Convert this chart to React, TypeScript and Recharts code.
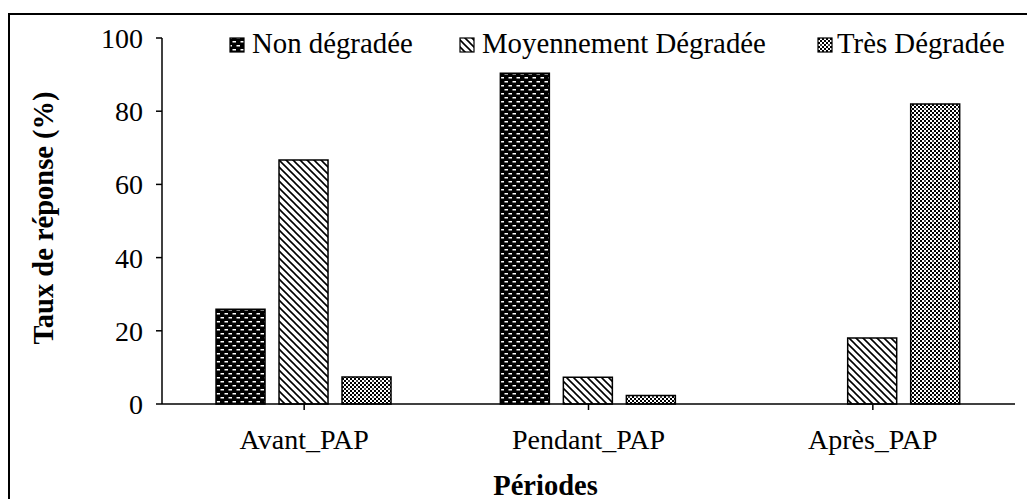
import React from "react";
import { BarChart, Bar, XAxis, YAxis, Legend } from "recharts";

const periods = ["Avant_PAP", "Pendant_PAP", "Après_PAP"];
const seriesNames = ["Non dégradée", "Moyennement Dégradée", "Très Dégradée"];
const nonDegradee = [25.9, 90.4, 0];
const moyennement = [66.7, 7.3, 18.0];
const tresDegradee = [7.4, 2.3, 82.0];
const yTicks = [0, 20, 40, 60, 80, 100];
const yTitle = "Taux de réponse (%)";
const xTitle = "Périodes";

const data = periods.map((p, i) => ({
  period: p,
  non: nonDegradee[i],
  moy: moyennement[i],
  tres: tresDegradee[i],
}));

const FONT = "'Liberation Serif', 'Times New Roman', serif";
const keys = ["non", "moy", "tres"];

const Patterns = ({ prefix }: { prefix: string }) => (
  <defs>
    <pattern id={`${prefix}non`} patternUnits="userSpaceOnUse" width={8} height={8}>
      <rect x={0} y={0} width={8} height={8} fill="#000" />
      <rect x={0.5} y={1} width={3.5} height={1.5} fill="#fff" />
      <rect x={4.5} y={5} width={3.5} height={1.5} fill="#fff" />
    </pattern>
    <pattern id={`${prefix}moy`} patternUnits="userSpaceOnUse" width={7} height={7}>
      <rect x={0} y={0} width={7} height={7} fill="#fff" />
      <path d="M0,0 L7,7 M-1,6 L1,8 M6,-1 L8,1" stroke="#000" strokeWidth={1.6} />
    </pattern>
    <pattern id={`${prefix}tres`} patternUnits="userSpaceOnUse" width={8} height={8}>
      <rect x={0} y={0} width={8} height={8} fill="#fff" />
      <rect x={0} y={0} width={2} height={2} fill="#000" />
      <rect x={4} y={0} width={2} height={2} fill="#000" />
      <rect x={2} y={2} width={2} height={2} fill="#000" />
      <rect x={6} y={2} width={2} height={2} fill="#000" />
      <rect x={0} y={4} width={2} height={2} fill="#000" />
      <rect x={4} y={4} width={2} height={2} fill="#444" />
      <rect x={2} y={6} width={2} height={2} fill="#000" />
      <rect x={6} y={6} width={2} height={2} fill="#000" />
    </pattern>
  </defs>
);

const legendIconX = [222, 452, 810];
const legendTextGap = [22, 22, 19];

const renderLegend = () => (
  <svg width={1027} height={60} style={{ display: "block" }}>
    <Patterns prefix="lg" />
    {seriesNames.map((name, i) => (
      <g key={name}>
        <rect
          x={legendIconX[i]}
          y={30}
          width={14}
          height={14}
          fill={`url(#lg${keys[i]})`}
          stroke="#000"
          strokeWidth={1.2}
        />
        <text
          x={legendIconX[i] + legendTextGap[i]}
          y={45}
          fontFamily={FONT}
          fontSize={28.8}
          fill="#000"
        >
          {name}
        </text>
      </g>
    ))}
  </svg>
);

const YTitle = (props: any) => {
  const vb = props.viewBox || { x: 0, y: 30, width: 154, height: 366 };
  const cx = vb.x + 35;
  const cy = vb.y + vb.height / 2 - 3;
  return (
    <text
      x={cx}
      y={cy}
      transform={`rotate(-90, ${cx}, ${cy})`}
      textAnchor="middle"
      dominantBaseline="central"
      fontFamily={FONT}
      fontSize={28.5}
      fontWeight="bold"
      fill="#000"
    >
      {yTitle}
    </text>
  );
};

const XTitle = (props: any) => {
  const vb = props.viewBox || { x: 154, y: 396, width: 853, height: 95 };
  const cx = vb.x + vb.width / 2 - 43;
  return (
    <text
      x={cx}
      y={vb.y + 91}
      textAnchor="middle"
      fontFamily={FONT}
      fontSize={28.5}
      fontWeight="bold"
      fill="#000"
    >
      {xTitle}
    </text>
  );
};

export default function App() {
  return (
    <div
      style={{
        position: "relative",
        width: 1027,
        height: 491,
        overflow: "hidden",
        fontFamily: FONT,
        background: "#fff",
      }}
    >
      <div
        style={{
          position: "absolute",
          left: 0,
          top: 5,
          width: 1100,
          height: 600,
          border: "2px solid #000",
          boxSizing: "border-box",
        }}
      />
      <div style={{ position: "absolute", left: 0, top: 0 }}>
        <BarChart
          width={1027}
          height={491}
          data={data}
          margin={{ top: 30, right: 20, bottom: 0, left: 0 }}
          barCategoryGap="19%"
          barGap={14}
        >
          <Patterns prefix="p" />
          <XAxis
            dataKey="period"
            tickSize={6}
            tickMargin={19}
            axisLine={{ stroke: "#000", strokeWidth: 1.5 }}
            tickLine={{ stroke: "#000", strokeWidth: 1.5 }}
            tick={{ fill: "#000", fontSize: 28, fontFamily: FONT }}
            height={95}
            label={<XTitle />}
          />
          <YAxis
            domain={[0, 100]}
            ticks={yTicks}
            width={154}
            tickSize={6}
            tickMargin={13}
            axisLine={{ stroke: "#000", strokeWidth: 1.5 }}
            tickLine={{ stroke: "#000", strokeWidth: 1.5 }}
            tick={{ fill: "#000", fontSize: 28, fontFamily: FONT }}
            label={<YTitle />}
          />
          <Legend
            verticalAlign="middle"
            layout="horizontal"
            content={renderLegend}
            wrapperStyle={{ top: 0, left: 0, width: 1027, height: 60 }}
          />
          {keys.map((k, i) => (
            <Bar
              key={k}
              dataKey={k}
              name={seriesNames[i]}
              fill={`url(#p${k})`}
              stroke="#000"
              strokeWidth={1.5}
              isAnimationActive={false}
            />
          ))}
        </BarChart>
      </div>
    </div>
  );
}
